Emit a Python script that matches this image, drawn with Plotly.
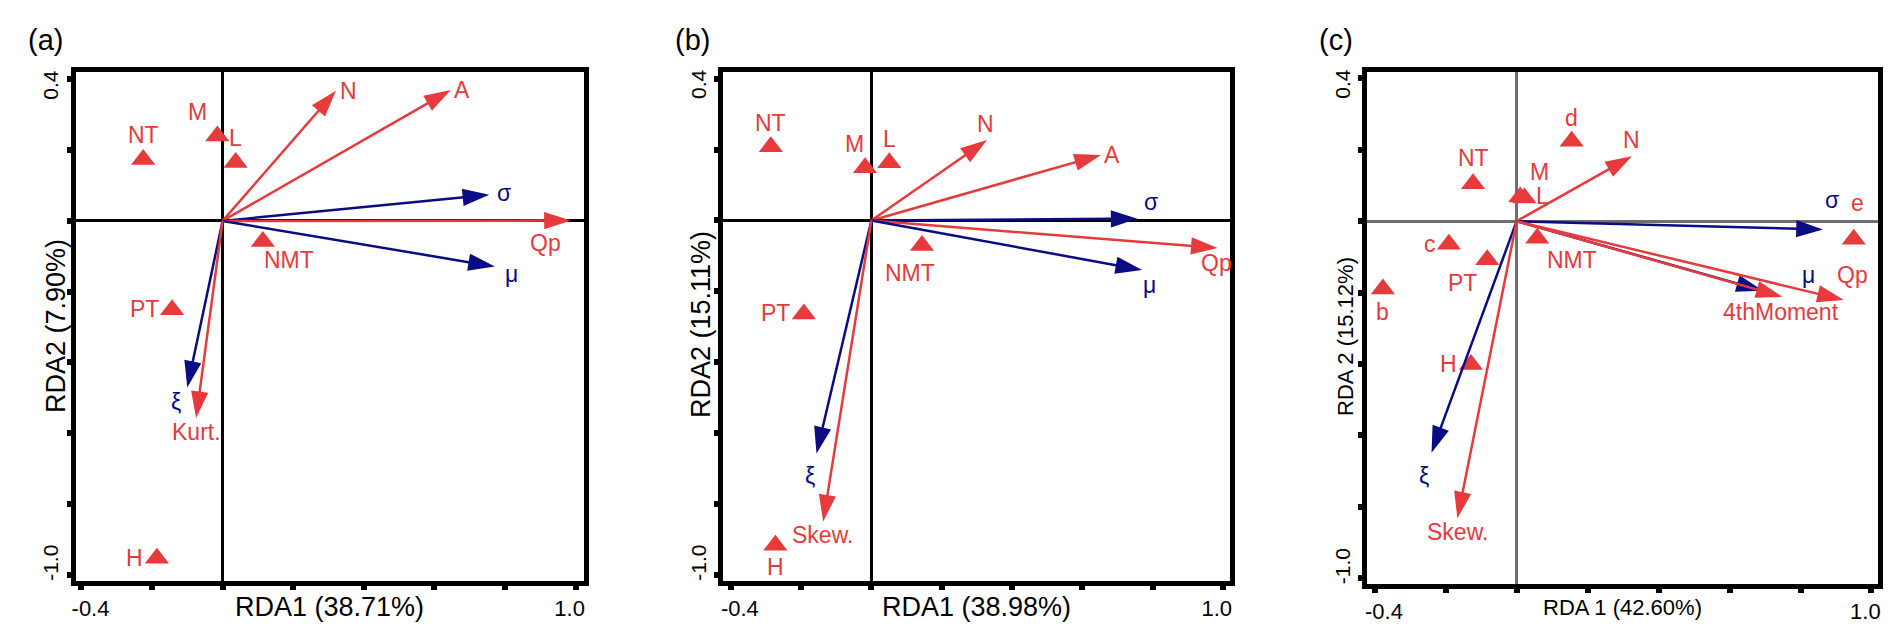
import plotly.graph_objects as go

RED = '#E63A3C'
BLUE = '#0B0B83'
FONT = 'Liberation Sans, Arial, sans-serif'
W, H = 1892, 629

# variables drawn in blue, everything else red
BLUE_VARS = ('σ', 'μ', 'ξ')

# ---- panel (a) ----
a_vec_names = ['N', 'A', 'σ', 'Qp', 'μ', 'ξ', 'Kurt.']
a_vec_x = [0.321, 0.646, 0.755, 0.986, 0.771, -0.100, -0.075]
a_vec_y = [0.368, 0.370, 0.074, 0.001, -0.129, -0.471, -0.557]
a_vec_lab_x = [0.356, 0.677, 0.797, 0.915, 0.818, -0.131, -0.075]
a_vec_lab_y = [0.368, 0.370, 0.079, -0.063, -0.150, -0.511, -0.597]

a_site_names = ['NT', 'M', 'L', 'NMT', 'PT', 'H']
a_site_x = [-0.225, -0.015, 0.037, 0.114, -0.143, -0.186]
a_site_y = [0.174, 0.240, 0.165, -0.058, -0.251, -0.954]
a_site_lab_x = [-0.225, -0.070, 0.037, 0.187, -0.221, -0.249]
a_site_lab_y = [0.242, 0.309, 0.235, -0.111, -0.248, -0.953]

# ---- panel (b) ----
b_vec_names = ['N', 'A', 'σ', 'Qp', 'μ', 'ξ', 'Skew.']
b_vec_x = [0.329, 0.653, 0.757, 0.985, 0.770, -0.156, -0.137]
b_vec_y = [0.227, 0.185, 0.005, -0.078, -0.140, -0.658, -0.850]
b_vec_lab_x = [0.326, 0.684, 0.795, 0.981, 0.790, -0.175, -0.139]
b_vec_lab_y = [0.272, 0.185, 0.052, -0.121, -0.182, -0.723, -0.888]

b_site_names = ['NT', 'M', 'L', 'NMT', 'PT', 'H']
b_site_x = [-0.286, -0.018, 0.051, 0.144, -0.192, -0.273]
b_site_y = [0.208, 0.149, 0.163, -0.071, -0.264, -0.917]
b_site_lab_x = [-0.286, -0.048, 0.051, 0.111, -0.272, -0.273]
b_site_lab_y = [0.275, 0.215, 0.229, -0.149, -0.261, -0.979]

# ---- panel (c) ----
c_vec_names = ['N', 'σ', 'μ', '4thMoment', 'Qp', 'ξ', 'Skew.']
c_vec_x = [0.325, 0.863, 0.694, 0.749, 0.922, -0.240, -0.167]
c_vec_y = [0.182, -0.023, -0.195, -0.212, -0.221, -0.649, -0.833]
c_vec_lab_x = [0.325, 0.889, 0.823, 0.746, 0.946, -0.260, -0.168]
c_vec_lab_y = [0.227, 0.060, -0.152, -0.254, -0.150, -0.714, -0.872]

c_site_names = ['d', 'NT', 'M', 'L', 'NMT', 'c', 'PT', 'b', 'H', 'e']
c_site_x = [0.155, -0.123, 0.010, 0.022, 0.058, -0.191, -0.083, -0.377, -0.129, 0.950]
c_site_y = [0.224, 0.105, 0.068, 0.065, -0.048, -0.065, -0.108, -0.190, -0.402, -0.051]
c_site_lab_x = [0.155, -0.123, 0.065, 0.073, 0.155, -0.243, -0.153, -0.377, -0.192, 0.961]
c_site_lab_y = [0.290, 0.177, 0.139, 0.071, -0.110, -0.065, -0.173, -0.254, -0.399, 0.051]

x_ticks = [-0.4, -0.2, 0.0, 0.2, 0.4, 0.6, 0.8, 1.0]
y_ticks = [-1.0, -0.8, -0.6, -0.4, -0.2, 0.0, 0.2, 0.4]
NB = '\u00a0'
x_ticktext = [NB * 3 + '-0.4', '', '', '', '', '', '', '1.0' + NB * 2]
y_ticktext = [NB * 3 + '-1.0', '', '', '', '', '', '', '0.4' + NB * 3]

panels = [
    dict(tag='(a)', xt='RDA1 (38.71%)', yt='RDA2 (7.90%)',
         vn=a_vec_names, vx=a_vec_x, vy=a_vec_y, vlx=a_vec_lab_x, vly=a_vec_lab_y,
         sn=a_site_names, sx=a_site_x, sy=a_site_y, slx=a_site_lab_x, sly=a_site_lab_y,
         px=(67.7, 575.5), py=(63.7, 572.6), xr=[-0.416, 1.022], yr=[-1.017, 0.422],
         zc='black', zw=3, tsize=27, tag_x=37.5, yt_x=48, yt_y=318),
    dict(tag='(b)', xt='RDA1 (38.98%)', yt='RDA2 (15.11%)',
         vn=b_vec_names, vx=b_vec_x, vy=b_vec_y, vlx=b_vec_lab_x, vly=b_vec_lab_y,
         sn=b_site_names, sx=b_site_x, sy=b_site_y, slx=b_site_lab_x, sly=b_site_lab_y,
         px=(715, 1222.3), py=(63.7, 572.6), xr=[-0.422, 1.021], yr=[-1.017, 0.420],
         zc='black', zw=2.5, tsize=27, tag_x=684, yt_x=693, yt_y=317),
    dict(tag='(c)', xt='RDA 1 (42.60%)', yt='RDA 2 (15.12%)',
         vn=c_vec_names, vx=c_vec_x, vy=c_vec_y, vlx=c_vec_lab_x, vly=c_vec_lab_y,
         sn=c_site_names, sx=c_site_x, sy=c_site_y, slx=c_site_lab_x, sly=c_site_lab_y,
         px=(1359.3, 1869.5), py=(63.7, 576), xr=[-0.421, 1.017], yr=[-1.017, 0.419],
         zc='#6f6f6f', zw=3, tsize=22, tag_x=1328, yt_x=1337, yt_y=329),
]

fig = go.Figure()
annotations = []
layout = {}


def label(x, y, text, col, size, xref='paper', yref='paper', angle=0):
    return dict(x=x, y=y, xref=xref, yref=yref, text=text, showarrow=False,
                xanchor='center', yanchor='middle', textangle=angle,
                font=dict(family=FONT, size=size, color=col))


for i, p in enumerate(panels):
    n = '' if i == 0 else str(i + 1)
    xa, ya = 'x' + n, 'y' + n

    # site triangles
    fig.add_trace(go.Scatter(
        x=p['sx'], y=p['sy'], mode='markers', xaxis=xa, yaxis=ya,
        marker=dict(symbol='triangle-up', size=21, color=RED, line=dict(width=0)),
        hoverinfo='skip', showlegend=False))

    # vectors from origin, arrow marker at the tip
    for name, tx, ty in zip(p['vn'], p['vx'], p['vy']):
        col = BLUE if name in BLUE_VARS else RED
        fig.add_trace(go.Scatter(
            x=[0, tx], y=[0, ty], mode='lines+markers', xaxis=xa, yaxis=ya,
            line=dict(color=col, width=2.5),
            marker=dict(symbol='arrow', size=[0, 28], color=col, opacity=1,
                        angleref='previous', line=dict(width=0)),
            hoverinfo='skip', showlegend=False))

    for name, lx, ly in zip(p['vn'], p['vlx'], p['vly']):
        col = BLUE if name in BLUE_VARS else RED
        annotations.append(label(lx, ly, name, col, 23, xa, ya))
    for name, lx, ly in zip(p['sn'], p['slx'], p['sly']):
        annotations.append(label(lx, ly, name, RED, 23, xa, ya))

    x0, x1 = p['px']
    y0, y1 = p['py']
    axis_common = dict(showline=True, linewidth=5, linecolor='black', mirror=True,
                       ticks='outside', ticklen=4, tickwidth=6, tickcolor='black',
                       showgrid=False, zeroline=True, zerolinecolor=p['zc'],
                       zerolinewidth=p['zw'], automargin=False)
    layout['xaxis' + n] = dict(axis_common, domain=[x0 / W, x1 / W], range=p['xr'],
                               anchor=ya, tickvals=x_ticks, ticktext=x_ticktext,
                               tickfont=dict(family=FONT, size=22, color='black'))
    layout['yaxis' + n] = dict(axis_common, domain=[1 - y1 / H, 1 - y0 / H], range=p['yr'],
                               anchor=xa, tickvals=y_ticks, ticktext=y_ticktext, tickangle=-90,
                               tickfont=dict(family=FONT, size=21, color='black'))

    # panel tag and axis titles
    annotations.append(label(p['tag_x'] / W, 1 - 32 / H, p['tag'], 'black', 29))
    annotations.append(label((x0 + x1) / 2 / W, 1 - 599 / H, p['xt'], 'black', p['tsize']))
    annotations.append(label(p['yt_x'] / W, 1 - p['yt_y'] / H, p['yt'], 'black',
                             p['tsize'], angle=-90))

fig.update_layout(
    template='none',
    width=W, height=H,
    margin=dict(l=0, r=0, t=0, b=0),
    paper_bgcolor='white', plot_bgcolor='white',
    hovermode=False, showlegend=False,
    annotations=annotations,
    **layout)

fig.write_html("out.html")
